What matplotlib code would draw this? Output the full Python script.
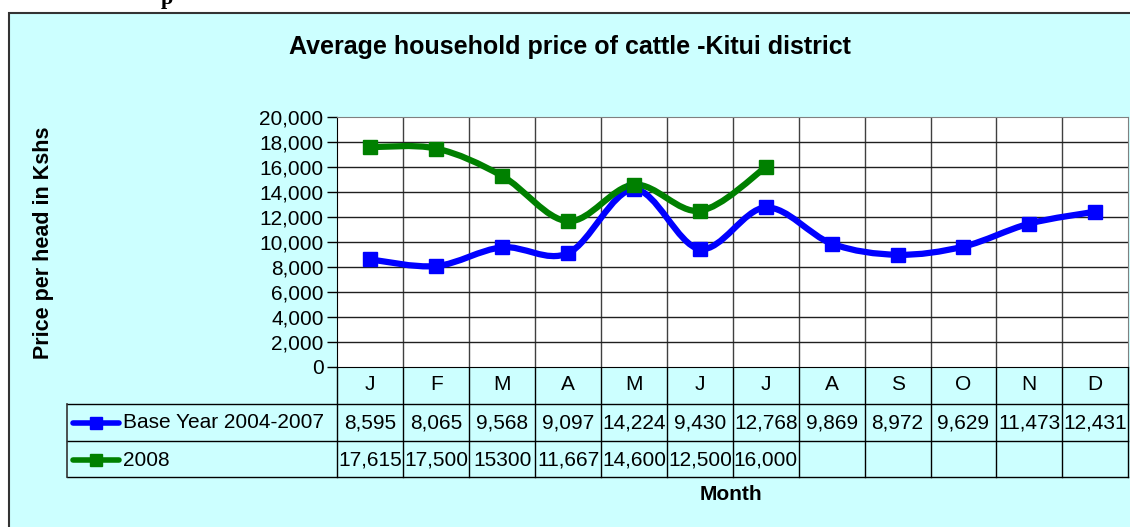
import numpy as np
import matplotlib
matplotlib.use('Agg')
import matplotlib.pyplot as plt
from matplotlib.path import Path
from matplotlib.patches import PathPatch, Rectangle
from matplotlib.lines import Line2D
from matplotlib.transforms import blended_transform_factory
from matplotlib.ticker import FuncFormatter

plt.rcParams['font.family'] = ['Liberation Sans', 'DejaVu Sans']

months = ['J', 'F', 'M', 'A', 'M', 'J', 'J', 'A', 'S', 'O', 'N', 'D']
base_label = 'Base Year 2004-2007'
base = [8595, 8065, 9568, 9097, 14224, 9430, 12768, 9869, 8972, 9629, 11473, 12431]
base_text = ['8,595', '8,065', '9,568', '9,097', '14,224', '9,430', '12,768',
             '9,869', '8,972', '9,629', '11,473', '12,431']
y2008_label = '2008'
y2008 = [17615, 17500, 15300, 11667, 14600, 12500, 16000]
y2008_text = ['17,615', '17,500', '15300', '11,667', '14,600', '12,500', '16,000']

W, H = 1130, 527
BG = '#CCFFFF'
FS = 15


def fx(px):
    return px / W


def fy(py):
    return 1 - py / H


def smooth_path(xs, ys):
    pts = np.column_stack([xs, ys]).astype(float)
    verts = [pts[0]]
    codes = [Path.MOVETO]
    n = len(pts)
    for i in range(n - 1):
        p0 = pts[i - 1] if i > 0 else pts[i]
        p1, p2 = pts[i], pts[i + 1]
        p3 = pts[i + 2] if i + 2 < n else pts[i + 1]
        verts += [p1 + (p2 - p0) / 6, p2 - (p3 - p1) / 6, p2]
        codes += [Path.CURVE4] * 3
    return Path(verts, codes)


fig = plt.figure(figsize=(W / 100, H / 100), dpi=100)
fig.patch.set_facecolor('white')

# chart frame
fig.patches.append(Rectangle((fx(9), fy(H + 5)), fx(W + 10), (H + 5 - 13) / H,
                             transform=fig.transFigure, facecolor=BG,
                             edgecolor='#333333', lw=1.5, zorder=-5))
fig.text(fx(167), fy(4), 'p', family='Liberation Serif', weight='bold',
         fontsize=16, ha='center', va='baseline')

left, right, top, bottom = 337.4, 1128.2, 117.4, 366.5
ax = fig.add_axes([fx(left), fy(bottom), fx(right - left), (bottom - top) / H])
ax.set_zorder(2)
ax.set_facecolor('white')
ax.set_xlim(-0.5, 11.5)
ax.set_ylim(0, 20000)
ax.set_yticks(np.arange(0, 20001, 2000))
ax.yaxis.set_major_formatter(FuncFormatter(lambda v, p: f'{int(v):,}'))
ax.tick_params(axis='y', direction='out', length=7, width=1, pad=3,
               labelsize=FS, color='black')
ax.set_xticks([])
for b in np.arange(0.5, 11.5, 1):
    ax.axvline(b, color='#404040', lw=1, zorder=1)
for v in np.arange(2000, 20000, 2000):
    ax.axhline(v, color='#202020', lw=1, zorder=1)
for s in ['top', 'right']:
    ax.spines[s].set_color('#808080')
ax.spines['left'].set_color('black')
ax.spines['bottom'].set_color('black')

x_base = np.arange(len(base))
x_08 = np.arange(len(y2008))
for xs, ys, col in [(x_base, base, '#0000FF'), (x_08, y2008, '#008000')]:
    ax.add_patch(PathPatch(smooth_path(xs, ys), facecolor='none', edgecolor=col,
                           lw=4.5, zorder=3, capstyle='round', joinstyle='round'))
    ax.plot(xs, ys, ls='none', marker='s', ms=10, color=col, zorder=4)

fig.text(fx(570), fy(47), 'Average household price of cattle -Kitui district',
         fontsize=18, weight='bold', ha='center', va='center')
fig.text(fx(44), fy(243), 'Price per head in Kshs', rotation=90, weight='bold',
         fontsize=15.5, ha='center', va='center')
fig.text(fx(731), fy(495), 'Month', weight='bold', fontsize=15,
         ha='center', va='center')

# data table
tb = blended_transform_factory(ax.transData, fig.transFigure)
r_head, r1, r2, r_end = bottom, 404, 441, 477
for b in np.arange(-0.5, 12, 1):
    fig.add_artist(Line2D([b, b], [fy(r_head), fy(r_end)], transform=tb,
                          color='black', lw=1))
for ry in [r1, r2, r_end]:
    fig.add_artist(Line2D([fx(67), fx(right)], [fy(ry), fy(ry)],
                          transform=fig.transFigure, color='black', lw=1))
fig.add_artist(Line2D([fx(67), fx(67)], [fy(r1), fy(r_end)],
                      transform=fig.transFigure, color='#333333', lw=1.2))

for i, m in enumerate(months):
    fig.text(i, fy(385), m, transform=tb, fontsize=FS, ha='center', va='center')
for i, t in enumerate(base_text):
    fig.text(i, fy(423), t, transform=tb, fontsize=FS, ha='center', va='center')
for i, t in enumerate(y2008_text):
    fig.text(i, fy(460), t, transform=tb, fontsize=FS, ha='center', va='center')

for label, col, ry in [(base_label, '#0000FF', 423), (y2008_label, '#008000', 460)]:
    fig.add_artist(Line2D([fx(73), fx(96), fx(119)], [fy(ry)] * 3,
                          transform=fig.transFigure, color=col, lw=4,
                          solid_capstyle='round', marker='s', ms=8,
                          markevery=[1]))
    fig.text(fx(123), fy(ry), label, fontsize=FS, ha='left', va='center')

fig.savefig('out.png', dpi=100)
